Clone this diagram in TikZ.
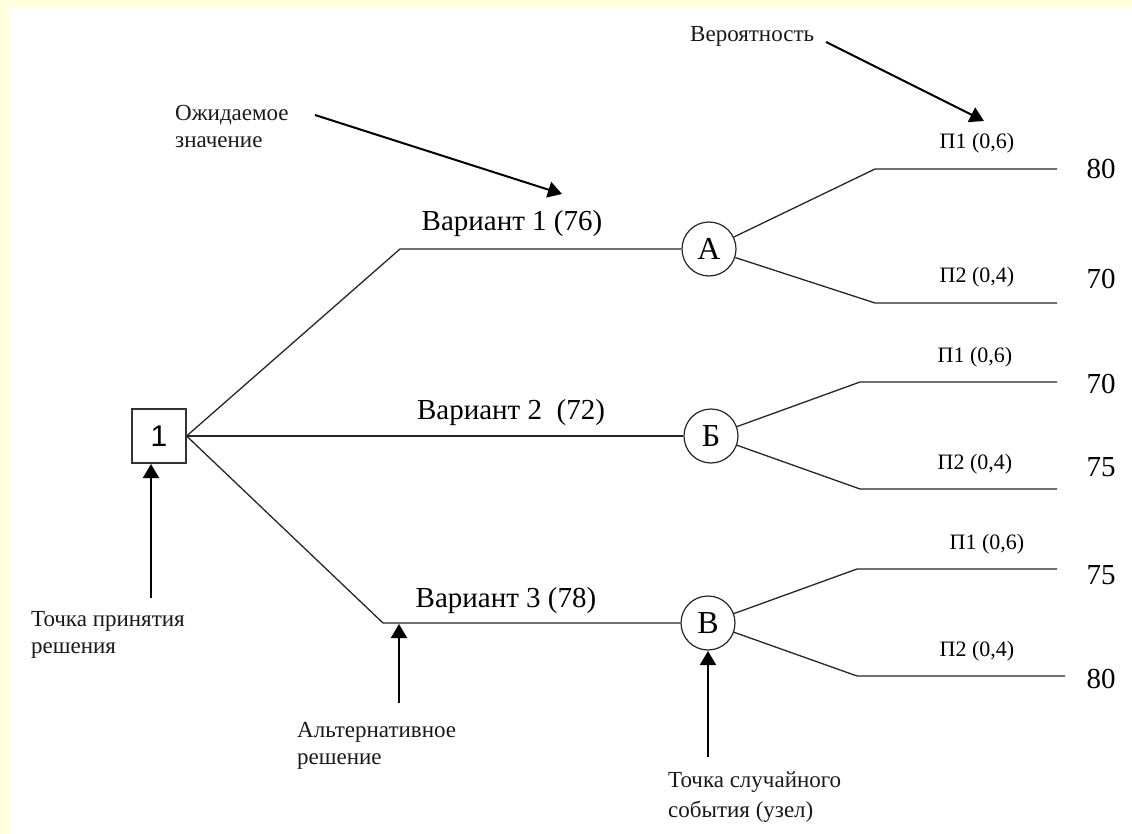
\documentclass[tikz,border=0pt]{standalone}
\usepackage{fontspec}
\setmainfont{Liberation Serif}
\newfontfamily\onefont{Liberation Sans}
\usetikzlibrary{arrows.meta}
\definecolor{frameyellow}{HTML}{FFFFDD}
\tikzset{
  tree/.style={line width=1.3pt, draw=black!85},
  arr/.style={line width=2pt, -{Triangle[width=16pt,length=14pt]}},
  sq/.style={draw=black!80, line width=1.2pt, minimum size=54pt, inner sep=0pt, font=\onefont\fontsize{30}{32}\selectfont},
  ch/.style={circle, draw=black!85, line width=1.2pt, minimum size=54pt, inner sep=0pt, font=\fontsize{32}{34}\selectfont},
  ann/.style={anchor=base west, align=left, inner sep=0pt, font=\fontsize{23}{27}\selectfont, text=black!90},
  var/.style={anchor=base, inner sep=0pt, font=\fontsize{29}{30}\selectfont},
  prob/.style={anchor=base, inner sep=0pt, font=\fontsize{22}{24}\selectfont},
  val/.style={anchor=base, inner sep=0pt, font=\fontsize{29}{30}\selectfont},
}
\begin{document}
\begin{tikzpicture}[x=1pt,y=-1pt]
\useasboundingbox (0,0) rectangle (1132,834);
\fill[white] (0,0) rectangle (1132,834);
\fill[frameyellow] (0,0) rectangle (1132,7);
\fill[frameyellow] (0,0) rectangle (9,834);

% nodes
\node[sq] (d) at (159,436) {1};
\node[ch] (A) at (709,249) {А};
\node[ch] (B) at (711,436) {Б};
\node[ch] (V) at (708,623) {В};

% corners
\coordinate (c1) at (400,249);
\coordinate (c3) at (383,623);
\coordinate (Au) at (875,169);
\coordinate (Aue) at (1057,169);
\coordinate (Ad) at (875,303);
\coordinate (Ade) at (1057,303);
\coordinate (Bu) at (860,382);
\coordinate (Bue) at (1057,382);
\coordinate (Bd) at (860,489);
\coordinate (Bde) at (1057,489);
\coordinate (Vu) at (857,569);
\coordinate (Vue) at (1057,569);
\coordinate (Vd) at (857,676);
\coordinate (Vde) at (1065,676);

% tree
\draw[tree] (d.east) -- (c1) -- (A);
\draw[tree] (d.east) -- (B);
\draw[tree] (d.east) -- (c3) -- (V);
\draw[tree] (A) -- (Au) -- (Aue);
\draw[tree] (A) -- (Ad) -- (Ade);
\draw[tree] (B) -- (Bu) -- (Bue);
\draw[tree] (B) -- (Bd) -- (Bde);
\draw[tree] (V) -- (Vu) -- (Vue);
\draw[tree] (V) -- (Vd) -- (Vde);

% branch labels
\node[var] (l1) at (512,231) {Вариант 1 (76)};
\node[var] (l2) at (511,419) {Вариант 2 ~(72)};
\node[var] (l3) at (506,607) {Вариант 3 (78)};

\node[prob] (pa1) at (977,149) {П1 (0,6)};
\node[prob] (pa2) at (977,283) {П2 (0,4)};
\node[prob] (pb1) at (975,362) {П1 (0,6)};
\node[prob] (pb2) at (975,469) {П2 (0,4)};
\node[prob] (pv1) at (987,549) {П1 (0,6)};
\node[prob] (pv2) at (977,656) {П2 (0,4)};

\node[val] (va1) at (1101,179) {80};
\node[val] (va2) at (1101,288) {70};
\node[val] (vb1) at (1101,393) {70};
\node[val] (vb2) at (1101,476) {75};
\node[val] (vv1) at (1101,584) {75};
\node[val] (vv2) at (1101,688) {80};

% annotations (base = baseline of last line)
\node[ann] (t1) at (175,148) {Ожидаемое\\значение};
\node[ann] (t2) at (690,42) {Вероятность};
\node[ann] (t3) at (31,653) {Точка принятия\\решения};
\node[ann] (t4) at (297,764) {Альтернативное\\решение};
\node[ann] (t5) at (668,817) {Точка случайного\\[3pt]события (узел)};

% annotation arrows
\coordinate (s1) at (315,115);
\coordinate (e1) at (562,194);
\coordinate (s2) at (826,42);
\coordinate (e2) at (984,121);
\coordinate (s3) at (151,598);
\coordinate (e3) at (151,464);
\coordinate (s4) at (399,703);
\coordinate (e4) at (399,624);
\coordinate (s5) at (708,757);
\coordinate (e5) at (708,651);
\draw[arr] (s1) -- (e1);
\draw[arr] (s2) -- (e2);
\draw[arr] (s3) -- (e3);
\draw[arr] (s4) -- (e4);
\draw[arr] (s5) -- (e5);
\end{tikzpicture}
\end{document}
